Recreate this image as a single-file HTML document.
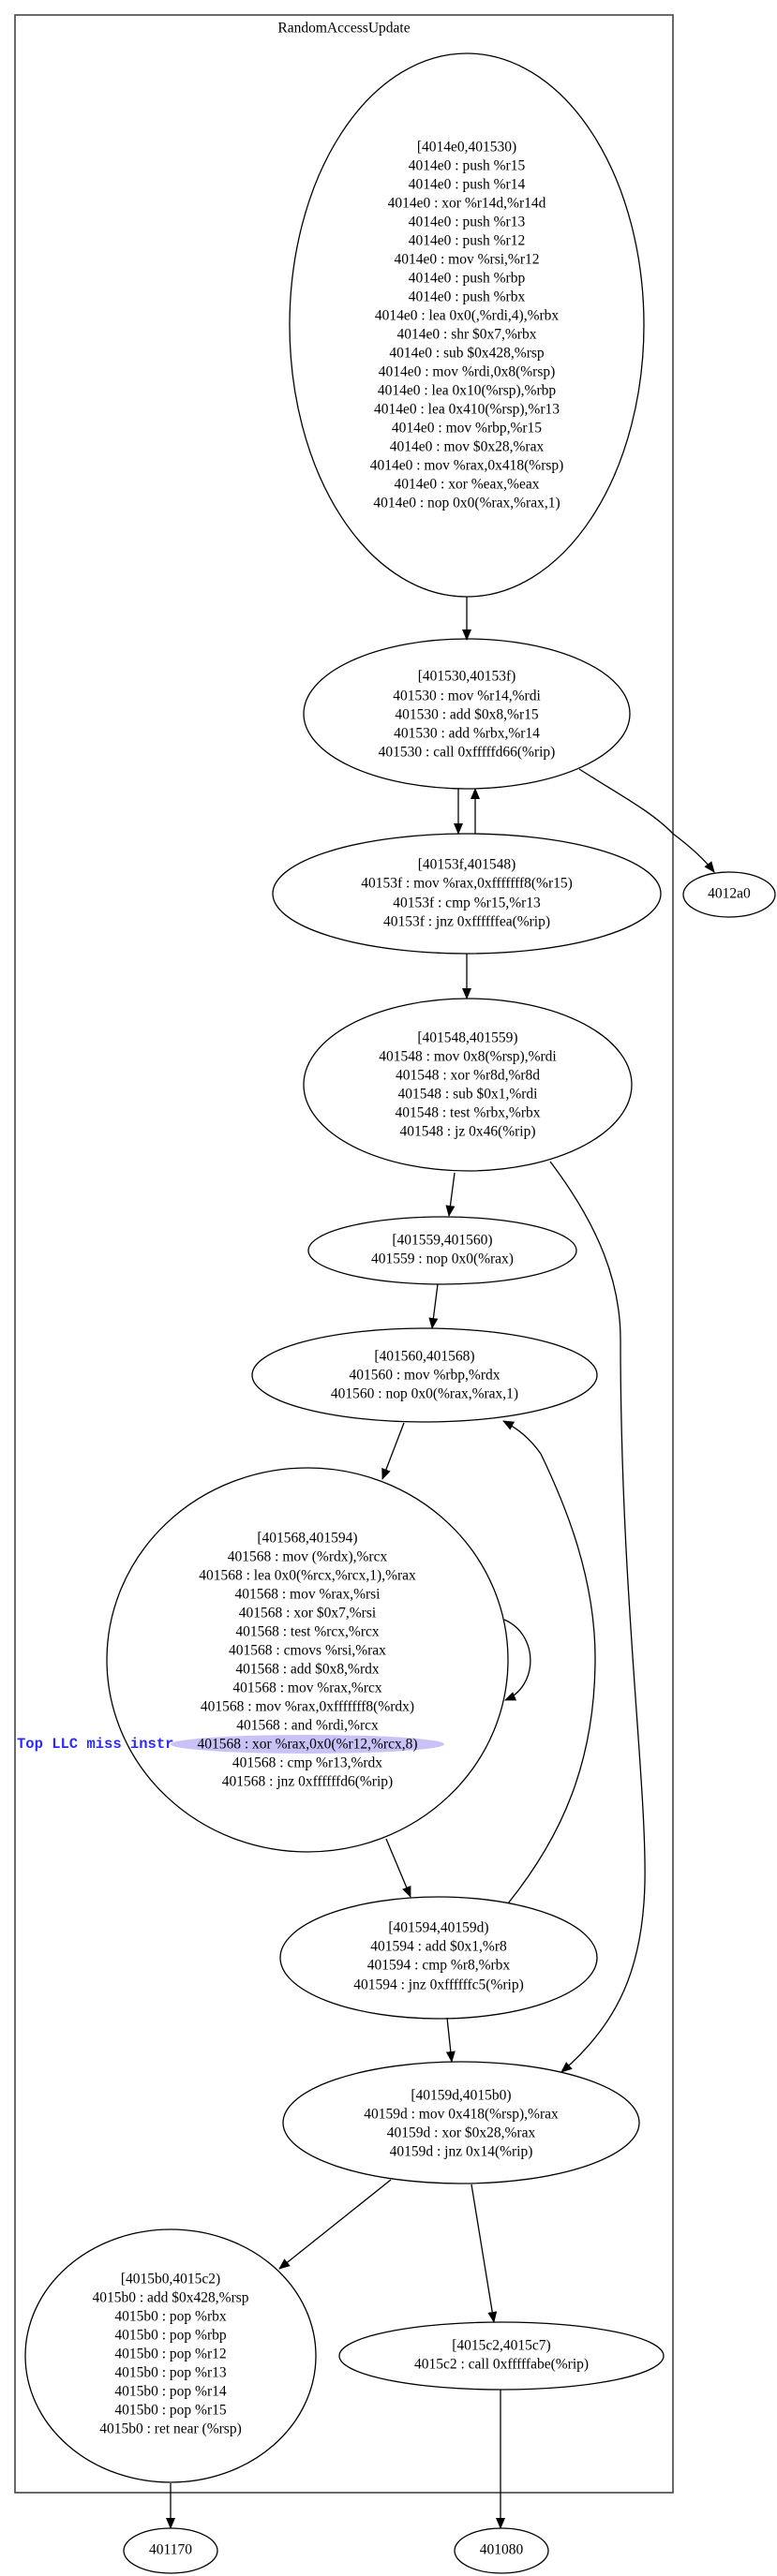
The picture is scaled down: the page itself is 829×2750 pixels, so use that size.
<!DOCTYPE html>
<html><head><meta charset="utf-8"><style>
html,body{margin:0;padding:0;background:#fff;}
svg{display:block;}
text{font-family:"Liberation Serif",serif;font-size:15.5px;fill:#000;text-anchor:middle;dominant-baseline:central;}
.e{fill:none;stroke:#000;stroke-width:1.3;}
</style></head><body>
<svg width="829" height="2750" viewBox="0 0 829 2750" xmlns="http://www.w3.org/2000/svg">
<defs>
<marker id="a" markerWidth="12" markerHeight="10" refX="11" refY="5" orient="auto" markerUnits="userSpaceOnUse">
<path d="M0,0 L12,5 L0,10 Z" fill="#000"/>
</marker>
</defs>
<rect x="16" y="16" width="702" height="2645" fill="none" stroke="#444" stroke-width="1.6"/>
<text x="367" y="30">RandomAccessUpdate</text>

<ellipse class="e" cx="498" cy="347" rx="189" ry="290"/>
<g>
<text x="498" y="157">[4014e0,401530)</text>
<text x="498" y="177">4014e0 : push %r15</text>
<text x="498" y="197">4014e0 : push %r14</text>
<text x="498" y="217">4014e0 : xor %r14d,%r14d</text>
<text x="498" y="237">4014e0 : push %r13</text>
<text x="498" y="257">4014e0 : push %r12</text>
<text x="498" y="277">4014e0 : mov %rsi,%r12</text>
<text x="498" y="297">4014e0 : push %rbp</text>
<text x="498" y="317">4014e0 : push %rbx</text>
<text x="498" y="337">4014e0 : lea 0x0(,%rdi,4),%rbx</text>
<text x="498" y="357">4014e0 : shr $0x7,%rbx</text>
<text x="498" y="377">4014e0 : sub $0x428,%rsp</text>
<text x="498" y="397">4014e0 : mov %rdi,0x8(%rsp)</text>
<text x="498" y="417">4014e0 : lea 0x10(%rsp),%rbp</text>
<text x="498" y="437">4014e0 : lea 0x410(%rsp),%r13</text>
<text x="498" y="457">4014e0 : mov %rbp,%r15</text>
<text x="498" y="477">4014e0 : mov $0x28,%rax</text>
<text x="498" y="497">4014e0 : mov %rax,0x418(%rsp)</text>
<text x="498" y="517">4014e0 : xor %eax,%eax</text>
<text x="498" y="537">4014e0 : nop 0x0(%rax,%rax,1)</text>
</g>
<path class="e" d="M498,637 L498,683" marker-end="url(#a)"/>

<ellipse class="e" cx="498" cy="762" rx="174" ry="80"/>
<text x="498" y="722">[401530,40153f)</text>
<text x="498" y="743">401530 : mov %r14,%rdi</text>
<text x="498" y="763">401530 : add $0x8,%r15</text>
<text x="498" y="783">401530 : add %rbx,%r14</text>
<text x="498" y="803">401530 : call 0xfffffd66(%rip)</text>

<path class="e" d="M489,842 L489,890" marker-end="url(#a)"/>
<path class="e" d="M507,890 L507,842" marker-end="url(#a)"/>
<path class="e" d="M618,821 C660,848 695,866 718,890 C738,905 752,918 762,931" marker-end="url(#a)"/>

<ellipse class="e" cx="778" cy="955" rx="49" ry="24"/>
<text x="778" y="954">4012a0</text>

<ellipse class="e" cx="498" cy="954" rx="207" ry="64"/>
<text x="498" y="923">[40153f,401548)</text>
<text x="498" y="943">40153f : mov %rax,0xfffffff8(%r15)</text>
<text x="498" y="964">40153f : cmp %r15,%r13</text>
<text x="498" y="984">40153f : jnz 0xffffffea(%rip)</text>
<path class="e" d="M498,1018 L498,1066" marker-end="url(#a)"/>

<ellipse class="e" cx="499" cy="1158" rx="175" ry="92"/>
<text x="499" y="1108">[401548,401559)</text>
<text x="499" y="1128">401548 : mov 0x8(%rsp),%rdi</text>
<text x="499" y="1148">401548 : xor %r8d,%r8d</text>
<text x="499" y="1168">401548 : sub $0x1,%rdi</text>
<text x="499" y="1188">401548 : test %rbx,%rbx</text>
<text x="499" y="1208">401548 : jz 0x46(%rip)</text>
<path class="e" d="M485,1252 L479,1298" marker-end="url(#a)"/>
<path class="e" d="M587,1240 C640,1310 662,1370 662,1430 C662,1700 690,1900 688,2010 C686,2100 660,2160 599,2212" marker-end="url(#a)"/>

<ellipse class="e" cx="472" cy="1335" rx="143" ry="36"/>
<text x="472" y="1324">[401559,401560)</text>
<text x="472" y="1344">401559 : nop 0x0(%rax)</text>
<path class="e" d="M467,1371 L461,1418" marker-end="url(#a)"/>

<ellipse class="e" cx="453" cy="1468" rx="184" ry="50"/>
<text x="453" y="1448">[401560,401568)</text>
<text x="453" y="1468">401560 : mov %rbp,%rdx</text>
<text x="453" y="1488">401560 : nop 0x0(%rax,%rax,1)</text>
<path class="e" d="M431,1519 L408,1579" marker-end="url(#a)"/>

<ellipse class="e" cx="328" cy="1772" rx="214" ry="205"/>
<ellipse cx="328" cy="1862" rx="146" ry="10" fill="#c9c2f7"/>
<text x="328" y="1642">[401568,401594)</text>
<text x="328" y="1662">401568 : mov (%rdx),%rcx</text>
<text x="328" y="1682">401568 : lea 0x0(%rcx,%rcx,1),%rax</text>
<text x="328" y="1702">401568 : mov %rax,%rsi</text>
<text x="328" y="1722">401568 : xor $0x7,%rsi</text>
<text x="328" y="1742">401568 : test %rcx,%rcx</text>
<text x="328" y="1762">401568 : cmovs %rsi,%rax</text>
<text x="328" y="1782">401568 : add $0x8,%rdx</text>
<text x="328" y="1802">401568 : mov %rax,%rcx</text>
<text x="328" y="1822">401568 : mov %rax,0xfffffff8(%rdx)</text>
<text x="328" y="1842">401568 : and %rdi,%rcx</text>
<text x="328" y="1862">401568 : xor %rax,0x0(%r12,%rcx,8)</text>
<text x="328" y="1882">401568 : cmp %r13,%rdx</text>
<text x="328" y="1902">401568 : jnz 0xffffffd6(%rip)</text>
<text x="18" y="1862" style="font-family:'Liberation Mono',monospace;font-weight:bold;font-size:15.5px;fill:#2a2aff;text-anchor:start;">Top LLC miss instr</text>
<path class="e" d="M538,1729 C575,1745 575,1800 539,1815" marker-end="url(#a)"/>
<path class="e" d="M412,1963 L438,2025" marker-end="url(#a)"/>

<ellipse class="e" cx="468" cy="2090" rx="169" ry="65"/>
<text x="468" y="2058">[401594,40159d)</text>
<text x="468" y="2078">401594 : add $0x1,%r8</text>
<text x="468" y="2098">401594 : cmp %r8,%rbx</text>
<text x="468" y="2119">401594 : jnz 0xffffffc5(%rip)</text>
<path class="e" d="M542,2032 C600,1960 635,1880 635,1770 C635,1680 600,1600 577,1552 C565,1535 552,1525 537,1517" marker-end="url(#a)"/>
<path class="e" d="M477,2154 L482,2201" marker-end="url(#a)"/>

<ellipse class="e" cx="492" cy="2266" rx="190" ry="65"/>
<text x="492" y="2237">[40159d,4015b0)</text>
<text x="492" y="2257">40159d : mov 0x418(%rsp),%rax</text>
<text x="492" y="2277">40159d : xor $0x28,%rax</text>
<text x="492" y="2297">40159d : jnz 0x14(%rip)</text>
<path class="e" d="M417,2327 L298,2422" marker-end="url(#a)"/>
<path class="e" d="M503,2332 L527,2479" marker-end="url(#a)"/>

<ellipse class="e" cx="182" cy="2515" rx="155" ry="135"/>
<text x="182" y="2433">[4015b0,4015c2)</text>
<text x="182" y="2453">4015b0 : add $0x428,%rsp</text>
<text x="182" y="2473">4015b0 : pop %rbx</text>
<text x="182" y="2493">4015b0 : pop %rbp</text>
<text x="182" y="2513">4015b0 : pop %r12</text>
<text x="182" y="2533">4015b0 : pop %r13</text>
<text x="182" y="2553">4015b0 : pop %r14</text>
<text x="182" y="2573">4015b0 : pop %r15</text>
<text x="182" y="2593">4015b0 : ret near (%rsp)</text>

<ellipse class="e" cx="535" cy="2515" rx="173" ry="36"/>
<text x="535" y="2504">[4015c2,4015c7)</text>
<text x="535" y="2524">4015c2 : call 0xfffffabe(%rip)</text>

<path class="e" d="M182,2651 L182,2699" marker-end="url(#a)"/>
<path class="e" d="M534,2551 L534,2699" marker-end="url(#a)"/>

<ellipse class="e" cx="182" cy="2723" rx="50" ry="24"/>
<text x="182" y="2722">401170</text>
<ellipse class="e" cx="535" cy="2723" rx="50" ry="24"/>
<text x="535" y="2722">401080</text>
</svg>
</body></html>
